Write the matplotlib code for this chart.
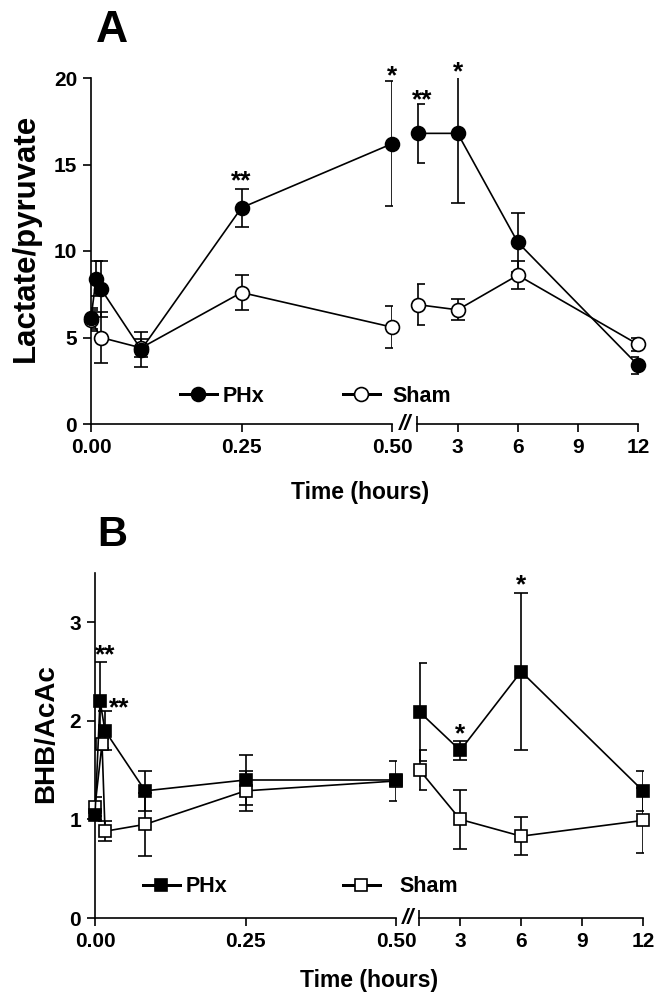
import matplotlib
matplotlib.use("Agg")
import matplotlib.pyplot as plt
from matplotlib.lines import Line2D

plt.rcParams['font.family'] = ['Liberation Sans', 'DejaVu Sans']
plt.rcParams['font.weight'] = 'bold'

# ---------------- data ----------------
# time in hours; left segment (0-0.5 h) and right segment (1-12 h)
t_left = [0.0, 0.5 / 60, 1 / 60, 5 / 60, 0.25, 0.5]
t_right = [1, 3, 6, 12]
sham_t_left_A = [0.0, 1 / 60, 5 / 60, 0.25, 0.5]

# Panel A: Lactate/pyruvate
phx_A_left = [6.1, 8.4, 7.8, 4.3, 12.5, 16.2]
phx_A_left_err = [0.6, 1.0, 1.6, 1.0, 1.1, 3.6]
phx_A_right = [16.8, 16.8, 10.5, 3.4]
phx_A_right_err = [1.7, 4.0, 1.7, 0.5]
sham_A_left = [6.0, 5.0, 4.4, 7.6, 5.6]
sham_A_left_err = [0.6, 1.5, 0.5, 1.0, 1.2]
sham_A_right = [6.9, 6.6, 8.6, 4.6]
sham_A_right_err = [1.2, 0.6, 0.8, 0.4]

# Panel B: BHB/AcAc
phx_B_left = [1.04, 2.2, 1.9, 1.29, 1.4, 1.4]
phx_B_left_err = [0.05, 0.4, 0.2, 0.2, 0.25, 0.05]
phx_B_right = [2.09, 1.7, 2.5, 1.29]
phx_B_right_err = [0.5, 0.1, 0.8, 0.2]
sham_t_left_B = [0.0, 0.7 / 60, 1 / 60, 5 / 60, 0.25, 0.5]
sham_B_left = [1.13, 1.77, 0.88, 0.95, 1.29, 1.39]
sham_B_left_err = [0.1, 0.05, 0.1, 0.32, 0.2, 0.2]
sham_B_right = [1.5, 1.0, 0.83, 0.99]
sham_B_right_err = [0.2, 0.3, 0.19, 0.33]

left_ticks = [0.0, 0.25, 0.5]
left_ticklabels = ['0.00', '0.25', '0.50']
right_ticks = [3, 6, 9, 12]
right_ticklabels = ['3', '6', '9', '12']
yticks_A = [0, 5, 10, 15, 20]
yticks_B = [0, 1, 2, 3]

# significance marks (x, y, text)
stars_A_left = [(0.25, 14.05, '**'), (0.5, 20.1, '*')]
stars_A_right = [(1.22, 18.7, '**'), (3, 20.35, '*')]
stars_B_left = [(0.0166, 2.66, '**'), (0.041, 2.13, '**')]
stars_B_right = [(3, 1.86, '*'), (6, 3.38, '*')]

# ---------------- layout ----------------
W, H = 664, 1007
fig = plt.figure(figsize=(W / 100, H / 100), dpi=100)


def rect(x0, x1, ytop, ybot):
    return [x0 / W, 1 - ybot / H, (x1 - x0) / W, (ybot - ytop) / H]


LW = 1.2
TICKFS = 15


def style_axes(ax, is_left, ylim, yticks):
    ax.set_ylim(*ylim)
    for s in ['top', 'right']:
        ax.spines[s].set_visible(False)
    ax.spines['bottom'].set_linewidth(LW)
    ax.spines['left'].set_linewidth(LW)
    ax.tick_params(axis='both', direction='out', length=6, width=LW,
                   labelsize=TICKFS, pad=4)
    if is_left:
        ax.set_yticks(yticks)
        ax.set_yticklabels([str(v) for v in yticks], fontweight='bold')
    else:
        ax.spines['left'].set_visible(False)
        ax.set_yticks([])
    ax.patch.set_alpha(0)


def series(ax, t, y, err, marker, filled, ms):
    ax.errorbar(t, y, yerr=err, fmt='none', ecolor='black', elinewidth=LW,
                capsize=5, capthick=LW, zorder=2)
    ax.plot(t, y, '-', marker=marker, color='black', lw=LW, ms=ms,
            mfc='black' if filled else 'white', mec='black', mew=LW,
            clip_on=False, zorder=3)


def stars(ax, marks):
    for x, y, s in marks:
        ax.text(x, y, s, ha='center', va='center', fontsize=19,
                fontweight='bold', clip_on=False)


def panel(top, bot, xl0, xl1, xr0, xr1, ylim, yticks,
          phxL, phxLe, phxR, phxRe, shL_t, shL, shLe, shR, shRe,
          marker, ms, sL, sR):
    axL = fig.add_axes(rect(xl0, xl1, top, bot))
    axR = fig.add_axes(rect(xr0, xr1, top, bot))
    style_axes(axL, True, ylim, yticks)
    style_axes(axR, False, ylim, yticks)
    axL.set_xlim(0, 0.5)
    axR.set_xlim(0.97, 12)
    axL.set_xticks(left_ticks)
    axL.set_xticklabels(left_ticklabels, fontweight='bold')
    axR.set_xticks(right_ticks)
    axR.set_xticklabels(right_ticklabels, fontweight='bold')
    # inout end ticks at the break
    axL.set_xticks([0.5], minor=True)
    axL.tick_params(axis='x', which='minor', direction='in', length=6, width=LW)
    axR.set_xticks([0.97], minor=True)
    axR.tick_params(axis='x', which='minor', direction='inout', length=12, width=LW)

    series(axL, shL_t, shL, shLe, marker, False, ms)
    series(axR, t_right, shR, shRe, marker, False, ms)
    series(axL, t_left, phxL, phxLe, marker, True, ms)
    series(axR, t_right, phxR, phxRe, marker, True, ms)
    stars(axL, sL)
    stars(axR, sR)
    # break mark
    fig.text(((xl1 + xr0) / 2) / W, 1 - bot / H, '//', ha='center', va='center',
             fontsize=16, fontweight='bold', style='italic')
    return axL, axR


axAL, axAR = panel(78, 424, 91, 392, 417, 638, (0, 20), yticks_A,
                   phx_A_left, phx_A_left_err, phx_A_right, phx_A_right_err,
                   sham_t_left_A, sham_A_left, sham_A_left_err,
                   sham_A_right, sham_A_right_err, 'o', 10,
                   stars_A_left, stars_A_right)

axBL, axBR = panel(573, 918, 95, 396, 419, 643, (0, 3.5), yticks_B,
                   phx_B_left, phx_B_left_err, phx_B_right, phx_B_right_err,
                   sham_t_left_B, sham_B_left, sham_B_left_err,
                   sham_B_right, sham_B_right_err, 's', 9,
                   stars_B_left, stars_B_right)


def legend_entry(marker, filled, ms, label, x, y, pad):
    h = Line2D([], [], color='black', lw=LW * 1.8, marker=marker, ms=ms,
               mfc='black' if filled else 'white', mec='black', mew=LW)
    lg = fig.legend([h], [label], loc='center left', bbox_to_anchor=(x / W, 1 - y / H),
                    frameon=False, borderpad=0, borderaxespad=0, handlelength=1.7,
                    handletextpad=pad, prop={'weight': 'bold', 'size': 15.5})
    return lg


legend_entry('o', True, 10, 'PHx', 180, 396, 0.3)
legend_entry('o', False, 10, 'Sham', 343, 396, 0.6)
legend_entry('s', True, 9, 'PHx', 143, 887, 0.3)
legend_entry('s', False, 9, 'Sham', 343, 887, 0.9)

# axis labels
fig.text(26 / W, 1 - 238 / H, 'Lactate/pyruvate', rotation=90, ha='center', va='center',
         fontsize=22.5, fontweight='bold')
fig.text(46 / W, 1 - 734 / H, 'BHB/AcAc', rotation=90, ha='center', va='center',
         fontsize=20, fontweight='bold')
fig.text(360 / W, 1 - 492 / H, 'Time (hours)', ha='center', va='center',
         fontsize=16.5, fontweight='bold')
fig.text(369 / W, 1 - 980 / H, 'Time (hours)', ha='center', va='center',
         fontsize=16.5, fontweight='bold')

# panel letters
fig.text(112 / W, 1 - 31 / H, 'A', ha='center', va='center', fontsize=32, fontweight='bold')
fig.text(112 / W, 1 - 535 / H, 'B', ha='center', va='center', fontsize=30, fontweight='bold')

fig.savefig('out.png', dpi=100, facecolor='white')
